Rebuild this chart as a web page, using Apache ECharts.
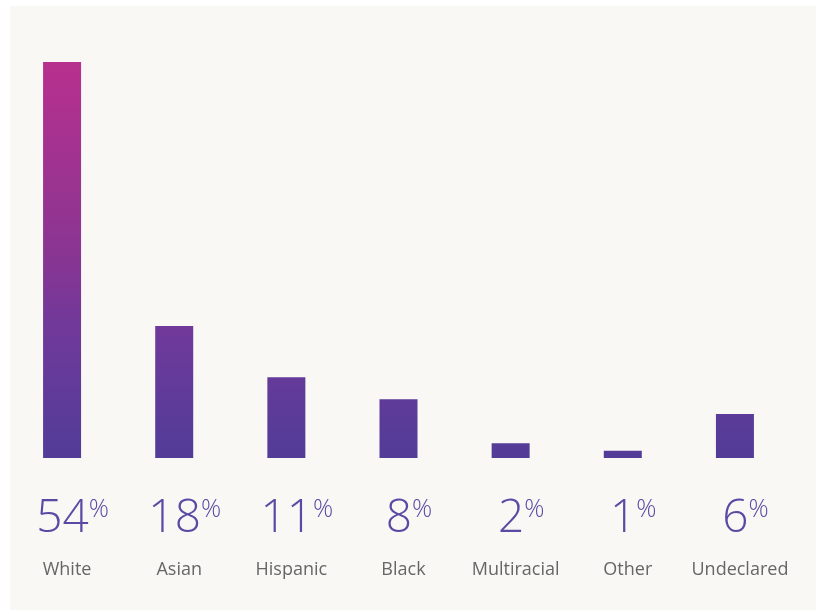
<!DOCTYPE html>
<html><head><meta charset="utf-8">
<script src="https://cdn.jsdelivr.net/npm/echarts@6/dist/echarts.min.js"></script>
<style>html,body{margin:0;padding:0;background:#ffffff;}#c{width:816px;height:610px;}</style>
</head><body><div id="c"></div>
<script>
const categories = ['White','Asian','Hispanic','Black','Multiracial','Other','Undeclared'];
const values = [54, 18, 11, 8, 2, 1, 6];

const chart = echarts.init(document.getElementById('c'), null, {renderer:'canvas'});
const gridTop = 62, gridBottomY = 458;
chart.setOption({
  animation:false,
  backgroundColor:'#ffffff',
  graphic:[{type:'rect', z:-10, shape:{x:10,y:6,width:806,height:604}, style:{fill:'#f9f8f5'}}],
  grid:{left:6, right:25, top:gridTop, bottom:610-gridBottomY},
  xAxis:{type:'category', data:categories,
    axisLine:{show:false}, axisTick:{show:false},
    axisLabel:{interval:0, margin:34,
      formatter:function(v, i){ return '{sp|}{num|'+values[i]+'}{pct|%}\n{cat|'+v+'}'; },
      rich:{
        sp:{width:21},
        num:{fontFamily:'Open Sans', fontWeight:300, fontSize:46, color:'#5a4aa3', lineHeight:50, verticalAlign:'bottom'},
        pct:{fontFamily:'Open Sans', fontWeight:300, fontSize:25, color:'#5a4aa3', lineHeight:50, verticalAlign:'top', padding:[5,0,0,0]},
        cat:{fontFamily:'Open Sans', fontSize:18, color:'#666666', lineHeight:56, padding:[0,0,0,10]}
      }
    }
  },
  yAxis:{type:'value', min:0, max:54, show:false, splitLine:{show:false}},
  series:[{type:'bar', data:values, barWidth:38,
    itemStyle:{color:{type:'linear', x:0, y:gridTop, x2:0, y2:gridBottomY, global:true,
      colorStops:[{offset:0,color:'#b8308e'},{offset:0.48,color:'#8a3592'},{offset:0.67,color:'#70399a'},{offset:1,color:'#523c98'}]}}
  }]
});
</script></body></html>
